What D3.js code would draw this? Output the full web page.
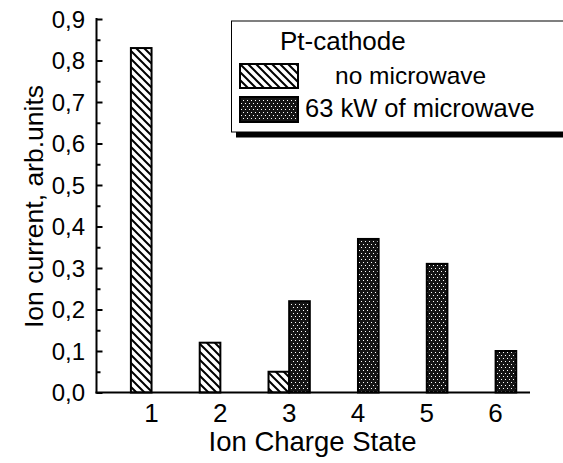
<!DOCTYPE html>
<html>
<head>
<meta charset="utf-8">
<script src="https://cdn.jsdelivr.net/npm/d3@7"></script>
<style>
  html, body { margin: 0; padding: 0; background: #fff; }
  svg { display: block; font-family: "Liberation Sans", Arial, sans-serif; }
</style>
</head>
<body>
<svg id="chart" width="563" height="463"></svg>
<script>
// ---- data ----
const categories = [1, 2, 3, 4, 5, 6];
const noMicrowave = [0.83, 0.12, 0.05, null, null, null];
const withMicrowave = [null, null, 0.22, 0.37, 0.31, 0.10];
const yTicks = [0, 0.1, 0.2, 0.3, 0.4, 0.5, 0.6, 0.7, 0.8, 0.9];
const yMinorTicks = [0.05, 0.15, 0.25, 0.35, 0.45, 0.55, 0.65, 0.75, 0.85];
const legendTitle = "Pt-cathode";
const seriesNames = ["no microwave", "63 kW of microwave"];
const xTitle = "Ion Charge State";
const yTitle = "Ion current, arb.units";

// ---- layout ----
const svg = d3.select("#chart");
const x = d3.scaleLinear().domain([0.2, 6.5]).range([96.5, 530]);
const y = d3.scaleLinear().domain([0, 0.9]).range([392.5, 19]);
const barW = 0.3; // in category units

// patterns
const defs = svg.append("defs");
const hatch = defs.append("pattern")
  .attr("id", "hatch").attr("patternUnits", "userSpaceOnUse")
  .attr("width", 8).attr("height", 8);
hatch.append("rect").attr("width", 8).attr("height", 8).attr("fill", "#fff");
hatch.append("path")
  .attr("d", "M-2,-2 L10,10 M-2,6 L2,10 M6,-2 L10,2")
  .attr("stroke", "#000").attr("stroke-width", 2);

const dots = defs.append("pattern")
  .attr("id", "dots").attr("patternUnits", "userSpaceOnUse")
  .attr("width", 4).attr("height", 6);
dots.append("rect").attr("width", 4).attr("height", 6).attr("fill", "#151515");
dots.append("rect").attr("x", 1).attr("y", 1).attr("width", 1).attr("height", 1).attr("fill", "#fff");
dots.append("rect").attr("x", 3).attr("y", 4).attr("width", 1).attr("height", 1).attr("fill", "#fff");

// bars
const d1 = categories.map((c, i) => ({c, v: noMicrowave[i]})).filter(d => d.v != null);
const d2 = categories.map((c, i) => ({c, v: withMicrowave[i]})).filter(d => d.v != null);

svg.append("g").selectAll("rect").data(d1).join("rect")
  .attr("x", d => x(d.c - barW)).attr("y", d => y(d.v))
  .attr("width", d => x(d.c) - x(d.c - barW)).attr("height", d => y(0) - y(d.v))
  .attr("fill", "url(#hatch)").attr("stroke", "#000").attr("stroke-width", 2);

svg.append("g").selectAll("rect").data(d2).join("rect")
  .attr("x", d => x(d.c)).attr("y", d => y(d.v))
  .attr("width", d => x(d.c + barW) - x(d.c)).attr("height", d => y(0) - y(d.v))
  .attr("fill", "url(#dots)").attr("stroke", "#000").attr("stroke-width", 2);

// y axis
const fmt = v => d3.format(".1f")(v).replace(".", ",");
const yAxis = d3.axisRight(y).tickValues(yTicks).tickSize(6).tickFormat("");
const yg = svg.append("g").attr("transform", `translate(${x(0.2)},0)`).call(yAxis);
yg.select(".domain").remove();
yg.selectAll("line").attr("stroke", "#000").attr("stroke-width", 2);
const yMinor = d3.axisRight(y).tickValues(yMinorTicks).tickSize(4).tickFormat("");
const ygm = svg.append("g").attr("transform", `translate(${x(0.2)},0)`).call(yMinor);
ygm.select(".domain").remove();
ygm.selectAll("line").attr("stroke", "#000").attr("stroke-width", 2);
svg.append("line").attr("x1", x(0.2)).attr("x2", x(0.2))
  .attr("y1", y(0.9) - 1).attr("y2", y(0) + 1).attr("stroke", "#000").attr("stroke-width", 2);
svg.append("g").selectAll("text").data(yTicks).join("text")
  .attr("x", 85).attr("y", d => y(d)).attr("dy", "0.36em")
  .attr("text-anchor", "end").attr("font-size", 24).text(fmt);

// x axis
svg.append("line").attr("x1", x(0.2) - 1).attr("x2", x(6.5))
  .attr("y1", y(0)).attr("y2", y(0)).attr("stroke", "#000").attr("stroke-width", 2);
svg.append("g").selectAll("text").data(categories).join("text")
  .attr("x", d => x(d)).attr("y", 421.5)
  .attr("text-anchor", "middle").attr("font-size", 26).text(d => d);

// titles
svg.append("text").attr("x", 312.5).attr("y", 450.5).attr("text-anchor", "middle")
  .attr("font-size", 27.5).text(xTitle);
svg.append("text").attr("transform", "translate(43,206.5) rotate(-90)")
  .attr("text-anchor", "middle").attr("font-size", 26.5).text(yTitle);

// legend
const lg = svg.append("g");
lg.append("rect").attr("x", 236).attr("y", 132).attr("width", 340).attr("height", 5.5).attr("fill", "#000");
lg.append("rect").attr("x", 231.5).attr("y", 21).attr("width", 345).attr("height", 111)
  .attr("fill", "#fff").attr("stroke", "#000").attr("stroke-width", 1);
lg.append("text").attr("x", 280).attr("y", 50).attr("font-size", 26).text(legendTitle);
lg.append("rect").attr("x", 240).attr("y", 64).attr("width", 58).attr("height", 24)
  .attr("fill", "url(#hatch)").attr("stroke", "#000").attr("stroke-width", 2);
lg.append("rect").attr("x", 240).attr("y", 97).attr("width", 58).attr("height", 25)
  .attr("fill", "url(#dots)").attr("stroke", "#000").attr("stroke-width", 2);
lg.append("text").attr("x", 335).attr("y", 84).attr("font-size", 24.5).text(seriesNames[0]);
lg.append("text").attr("x", 305).attr("y", 117).attr("font-size", 25.5).text(seriesNames[1]);
</script>
</body>
</html>
